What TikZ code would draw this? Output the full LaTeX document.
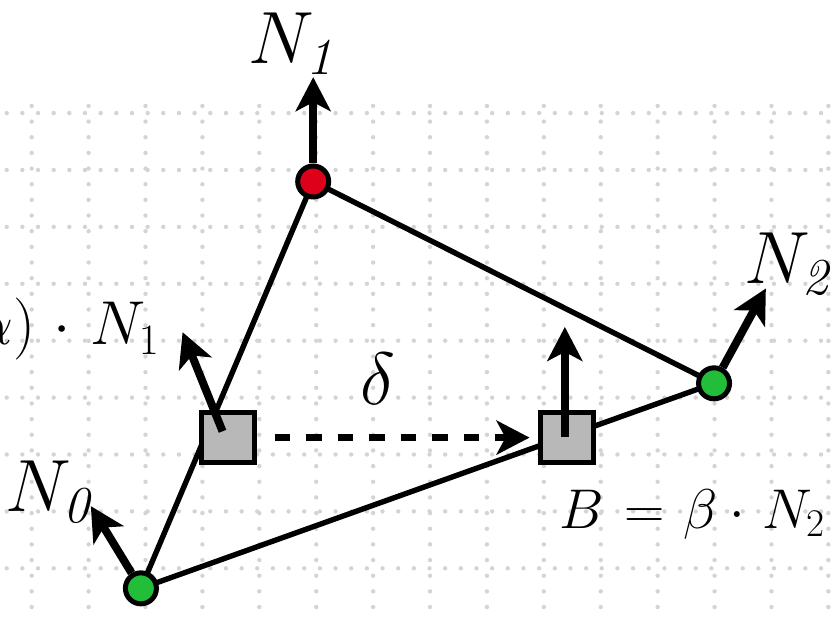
\RequirePackage{fix-cm}
\documentclass[tikz,border=0pt]{standalone}
\usepackage{tikz}
\usetikzlibrary{arrows.meta}
\definecolor{vred}{RGB}{222,0,26}
\definecolor{vgreen}{RGB}{34,190,58}
\definecolor{boxgray}{RGB}{184,184,184}
\tikzset{
  dotgrid/.style={black!17,line width=2.2pt,line cap=round,dash pattern=on 0pt off 7.83pt},
  edge/.style={line width=2.7pt},
  vertex/.style={circle,draw,line width=2.5pt,minimum size=15.5pt,inner sep=0pt},
  sample/.style={rectangle,draw,line width=2.5pt,fill=boxgray,minimum width=26.5pt,minimum height=25pt,inner sep=0pt},
  normal/.style={line width=4pt,-{Stealth[length=17pt,width=17.5pt,inset=4.5pt]}},
  offset/.style={line width=3.6pt,dash pattern=on 7.75pt off 8pt,-{Stealth[length=16.5pt,width=17pt,inset=4.5pt]}},
  lbl/.style={inner sep=0pt,anchor=base west,font=\fontsize{37}{40}\selectfont}
}
\begin{document}
\begin{tikzpicture}[x=28.15pt,y=26.35pt]
            \useasboundingbox (-0.563,-0.943) rectangle (14.215,10.784);
            \clip (-0.563,-0.943) rectangle (14.215,10.784);
            \draw[dotgrid] (-0.444,-0.735) grid (14.3,9);

            \coordinate (p0) at (1.94,-0.38);
            \coordinate (p1) at (5.00,7.34);
            \coordinate (p2) at (12.12,3.51);
            \draw[edge] (p0) -- (p1) -- (p2) -- cycle;

            \node[vertex,fill=vgreen] (v0) at (p0) {};
            \node[vertex,fill=vred] (v1) at (p1) {};
            \node[vertex,fill=vgreen] (v2) at (p2) {};
            \node[sample] (ba) at (3.49,2.48) {};
            \node[sample] (bb) at (9.50,2.48) {};

            \coordinate (t0) at (1.05,1.18);
            \coordinate (t1) at (5.00,9.32);
            \coordinate (t2) at (13.04,5.31);
            \coordinate (sa) at (3.39,2.60);
            \coordinate (ta) at (2.68,4.48);
            \coordinate (sb) at (9.47,2.50);
            \coordinate (tb) at (9.47,4.58);

            \draw[normal] (v0) -- (t0);
            \draw[normal] (v1) -- (t1);
            \draw[normal] (v2) -- (t2);
            \draw[normal] (sa) -- (ta);
            \draw[normal] (sb) -- (tb);
            \draw[offset,shorten <=8.8pt,shorten >=4pt] (ba.east) -- (bb.west);

            \node[lbl] (l0) at (-0.47,1.075) {$N_{\mathit{0}}$};
            \node[lbl] (l1) at (3.84,9.58) {$N_{\mathit{1}}$};
            \node[lbl] (l2) at (12.65,5.41) {$N_{\mathit{2}}$};
            \node[lbl] (ld) at (5.83,3.10) {$\delta$};
            \node[lbl,anchor=base east,font=\fontsize{31}{34}\selectfont] (la) at (2.28,4.24) {$A \mathrel{\mkern1.5mu=\mkern1mu} (1-\alpha) \mathbin{\mkern1.5mu\cdot\mkern1.5mu} N_1$};
            \node[lbl,font=\fontsize{28}{32}\selectfont] (lb) at (9.365,0.76) {$B \mathrel{\mkern1.5mu=\mkern1mu} \beta \cdot\mkern1.5mu N_2$};
\end{tikzpicture}
\end{document}
